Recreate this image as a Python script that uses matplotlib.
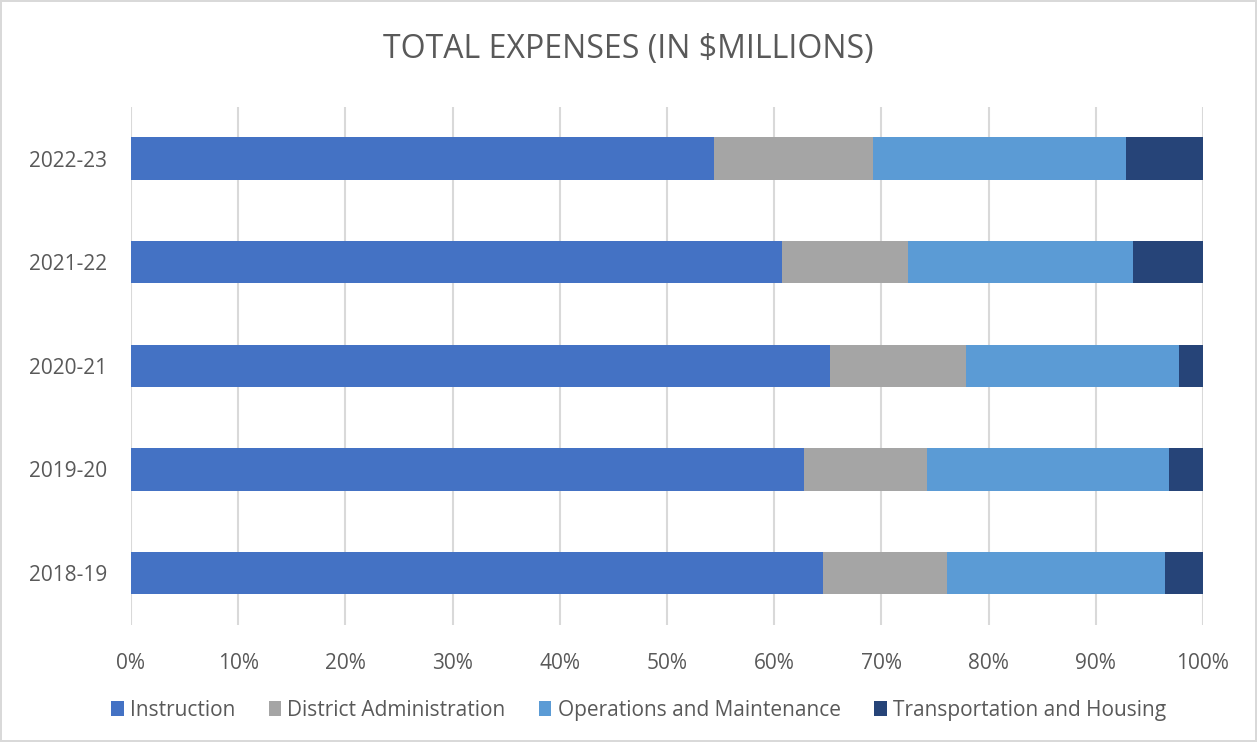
import numpy as np
import matplotlib.pyplot as plt
from matplotlib.ticker import PercentFormatter

# Datos (porcentaje del gasto total por año)
years = ['2018-19', '2019-20', '2020-21', '2021-22', '2022-23']
instruction = [64.6, 62.8, 65.2, 60.7, 54.4]
district_admin = [11.5, 11.5, 12.7, 11.8, 14.8]
operations = [20.4, 22.5, 19.9, 21.0, 23.6]
transport = [3.5, 3.2, 2.2, 6.5, 7.2]

series = [
    ('Instruction', instruction, '#4472C4'),
    ('District Administration', district_admin, '#A5A5A5'),
    ('Operations and Maintenance', operations, '#5B9BD5'),
    ('Transportation and Housing', transport, '#264478'),
]

plt.rcParams['font.family'] = ['Open Sans', 'DejaVu Sans']
text_color = '#595959'

fig = plt.figure(figsize=(12.57, 7.42), dpi=100)
fig.patch.set_edgecolor('#D9D9D9')
fig.patch.set_linewidth(1.5)
ax = fig.add_axes([0.1042, 0.158, 0.8528, 0.698])

# Barras apiladas al 100%
totals = np.sum([s[1] for s in series], axis=0)
left = np.zeros(len(years))
y = np.arange(len(years))
for name, vals, color in series:
    share = np.array(vals) / totals * 100
    ax.barh(y, share, left=left, height=0.41, color=color, label=name, zorder=3)
    left += share

ax.set_xlim(0, 100)
ax.set_ylim(-0.5, len(years) - 0.5)
ax.set_xticks(np.arange(0, 101, 10))
ax.xaxis.set_major_formatter(PercentFormatter(decimals=0))
ax.set_yticks(y)
ax.set_yticklabels(years)

# Estilo de ejes
ax.grid(axis='x', color='#D9D9D9', linewidth=1.5, zorder=0)
for sp in ax.spines.values():
    sp.set_visible(False)
ax.tick_params(axis='both', length=0, labelsize=15, labelcolor=text_color)
ax.tick_params(axis='x', pad=20)
ax.tick_params(axis='y', pad=17)

fig.suptitle('TOTAL EXPENSES (IN $MILLIONS)', y=0.955, fontsize=23, color=text_color)

fig.legend(loc='center', bbox_to_anchor=(0.508, 0.043), ncol=4, frameon=False,
           fontsize=15, labelcolor=text_color, handlelength=0.6, handleheight=0.7,
           handletextpad=0.3, columnspacing=1.6)

fig.savefig('out.png', dpi=100)
